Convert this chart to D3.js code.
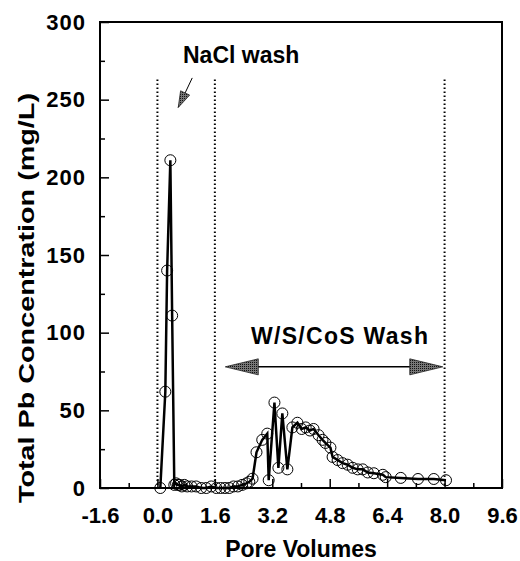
<!DOCTYPE html>
<html>
<head>
<meta charset="utf-8">
<script src="https://cdn.jsdelivr.net/npm/d3@7"></script>
<style>
  body { margin: 0; background: #fff; }
  text { font-family: "Liberation Sans", Arial, sans-serif; font-weight: bold; fill: #000; }
</style>
</head>
<body>
<div id="container"></div>
<script>
// pore volumes / total Pb concentration (mg/L)
var poreVolumes = [0.08, 0.22, 0.27, 0.36, 0.41, 0.47, 0.52, 0.57, 0.62, 0.68, 0.75, 0.83, 0.95, 1.08, 1.22, 1.36, 1.5, 1.64, 1.76, 1.88, 2.0, 2.12, 2.24, 2.36, 2.48, 2.56,
  2.65, 2.76, 2.92, 3.06, 3.10, 3.26, 3.37, 3.48, 3.62, 3.76, 3.90, 4.02, 4.13, 4.25, 4.35, 4.49, 4.60, 4.68, 4.82, 4.88, 5.02, 5.16, 5.30, 5.44, 5.58, 5.72, 5.86,
  6.03, 6.28, 6.36, 6.78, 7.26, 7.70, 8.04];
var concentration = [0, 62, 140, 211, 111, 2, 3, 2, 2, 1, 2, 1, 1, 1, 0, 0, 1, 0, 0, 0, 0, 1, 1, 2, 3, 4,
  6, 23, 31, 35, 5, 55, 13, 48, 12, 39, 42, 38, 39, 37, 38, 34, 31, 29, 26, 20, 18, 16, 15, 13, 12, 12, 10,
  9.5, 8.5, 7, 6.5, 5.8, 5.8, 5];

var xTicks = [-1.6, 0.0, 1.6, 3.2, 4.8, 6.4, 8.0, 9.6];
var xMinorTicks = [-0.8, 0.8, 2.4, 4.0, 5.6, 7.2, 8.8];
var yTicks = [0, 50, 100, 150, 200, 250, 300];
var yMinorTicks = [25, 75, 125, 175, 225, 275];
var washLines = [0.0, 1.6, 8.0];

var width = 520, height = 561;
var margin = {top: 22, right: 18, bottom: 73, left: 100};

var x = d3.scaleLinear().domain([-1.6, 9.6]).range([margin.left, width - margin.right]);
var y = d3.scaleLinear().domain([0, 300]).range([height - margin.bottom, margin.top]);

var svg = d3.select("#container").append("svg")
    .attr("width", width)
    .attr("height", height);

var data = poreVolumes.map((v, i) => ({pv: v, c: concentration[i]}));

// stipple pattern for arrowheads
var pat = svg.append("defs").append("pattern")
    .attr("id", "stipple")
    .attr("width", 2).attr("height", 2)
    .attr("patternUnits", "userSpaceOnUse");
pat.append("rect").attr("width", 2).attr("height", 2).attr("fill", "#777");
pat.append("rect").attr("width", 1).attr("height", 1).attr("fill", "#111");

// dotted wash boundaries
svg.append("g")
    .selectAll("line")
    .data(washLines)
    .join("line")
    .attr("x1", d => x(d)).attr("x2", d => x(d))
    .attr("y1", y(263)).attr("y2", y(1))
    .attr("stroke", "#000")
    .attr("stroke-width", 2)
    .attr("stroke-dasharray", "1.5,2.5");

// axes (ticks inside)
var xAxis = d3.axisBottom(x).tickValues(xTicks).tickSize(-9).tickPadding(19);
var yAxis = d3.axisLeft(y).tickValues(yTicks).tickSize(-9).tickPadding(14);

var gx = svg.append("g")
    .attr("transform", "translate(0," + y(0) + ")")
    .call(xAxis);
gx.select(".domain").remove();
gx.selectAll(".tick text").attr("font-size", 22).attr("dy", "0.71em")
    .text(d => d3.format(".1f")(d).replace("\u2212", "-"));
gx.selectAll(".tick line").attr("stroke-width", 1.5);

svg.append("g")
    .attr("transform", "translate(0," + y(0) + ")")
    .call(d3.axisBottom(x).tickValues(xMinorTicks).tickSize(-5).tickFormat(""))
    .call(g => g.select(".domain").remove())
    .selectAll(".tick line").attr("stroke-width", 1.5);

var gy = svg.append("g")
    .attr("transform", "translate(" + x(-1.6) + ",0)")
    .call(yAxis);
gy.select(".domain").remove();
gy.selectAll(".tick text").attr("font-size", 22).attr("letter-spacing", 1);
gy.selectAll(".tick line").attr("stroke-width", 1.5);

svg.append("g")
    .attr("transform", "translate(" + x(-1.6) + ",0)")
    .call(d3.axisLeft(y).tickValues(yMinorTicks).tickSize(-5).tickFormat(""))
    .call(g => g.select(".domain").remove())
    .selectAll(".tick line").attr("stroke-width", 1.5);

// frame
svg.append("rect")
    .attr("x", x(-1.6)).attr("y", y(300))
    .attr("width", x(9.6) - x(-1.6))
    .attr("height", y(0) - y(300))
    .attr("fill", "none")
    .attr("stroke", "#000")
    .attr("stroke-width", 2);

// data line
svg.append("path")
    .datum(data)
    .attr("fill", "none")
    .attr("stroke", "#000")
    .attr("stroke-width", 2.5)
    .attr("d", d3.line().x(d => x(d.pv)).y(d => y(d.c)));

// circles
svg.append("g")
    .selectAll("circle")
    .data(data)
    .join("circle")
    .attr("cx", d => x(d.pv))
    .attr("cy", d => y(d.c))
    .attr("r", 5.5)
    .attr("fill", "none")
    .attr("stroke", "#000")
    .attr("stroke-width", 1);

// axis titles
svg.append("text")
    .attr("x", x(4.0)).attr("y", 557)
    .attr("text-anchor", "middle")
    .attr("font-size", 23)
    .text("Pore Volumes");

svg.append("text")
    .attr("transform", "translate(34,298)rotate(-90)")
    .attr("text-anchor", "middle")
    .attr("font-size", 22)
    .attr("textLength", 410)
    .attr("lengthAdjust", "spacingAndGlyphs")
    .text("Total Pb Concentration (mg/L)");

// NaCl wash annotation
svg.append("text")
    .attr("x", 183).attr("y", 63)
    .attr("font-size", 23)
    .text("NaCl wash");

function arrowHead(tipX, tipY, fromX, fromY, len, half) {
  var dx = tipX - fromX, dy = tipY - fromY;
  var d = Math.sqrt(dx * dx + dy * dy);
  var ux = dx / d, uy = dy / d;
  var bx = tipX - ux * len, by = tipY - uy * len;
  return [[tipX, tipY], [bx - uy * half, by + ux * half], [bx + uy * half, by - ux * half]];
}

var naclTail = [x(0.97), y(264)], naclTip = [x(0.58), y(245)];
svg.append("line")
    .attr("x1", naclTail[0]).attr("y1", naclTail[1])
    .attr("x2", naclTip[0]).attr("y2", naclTip[1])
    .attr("stroke", "#000").attr("stroke-width", 1);
svg.append("polygon")
    .attr("points", arrowHead(naclTip[0], naclTip[1], naclTail[0], naclTail[1], 16, 5).join(" "))
    .attr("fill", "url(#stipple)")
    .attr("stroke", "#222").attr("stroke-width", 0.8);

// W/S/CoS wash annotation
var washY = y(78);
svg.append("text")
    .attr("x", 251).attr("y", 344)
    .attr("font-size", 23)
    .attr("textLength", 177)
    .attr("lengthAdjust", "spacing")
    .text("W/S/CoS Wash");

svg.append("line")
    .attr("x1", x(1.89) + 20).attr("x2", x(7.95) - 20)
    .attr("y1", washY).attr("y2", washY)
    .attr("stroke", "#000").attr("stroke-width", 1.5);
svg.append("polygon")
    .attr("points", arrowHead(x(1.89), washY, x(7.95), washY, 33, 8).join(" "))
    .attr("fill", "url(#stipple)")
    .attr("stroke", "#222").attr("stroke-width", 0.8);
svg.append("polygon")
    .attr("points", arrowHead(x(7.95), washY, x(1.89), washY, 33, 8).join(" "))
    .attr("fill", "url(#stipple)")
    .attr("stroke", "#222").attr("stroke-width", 0.8);
</script>
</body>
</html>
